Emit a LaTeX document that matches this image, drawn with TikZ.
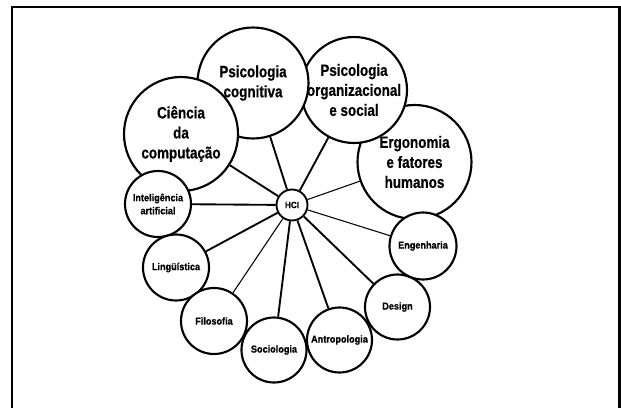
\documentclass[tikz,border=0pt]{standalone}
\usepackage{fontspec}
\setmainfont{Liberation Sans}
\newfontfamily\bigfont[FakeStretch=0.82, FakeBold=0.6]{Liberation Sans}
\newfontfamily\smallfont[FakeStretch=0.9, FakeBold=0.6]{Liberation Sans}

\begin{document}
\begin{tikzpicture}[
  x=0.75pt,
  y=-0.75pt,
  area/.style={circle, draw, fill=white, line width=1.6pt, inner sep=0pt, align=center, minimum size=#1*1.5pt},
  bigarea/.style={area=#1, font=\bigfont\bfseries\fontsize{12.3}{15}\selectfont},
  smallarea/.style={area=#1, font=\smallfont\bfseries\fontsize{7.6}{9.8}\selectfont},
  link/.style={line width=1.4pt},
  thinlink/.style={line width=0.8pt}
]
  \useasboundingbox (0,0) rectangle (621,407);
  \draw[line width=1.7pt] (11.7,412) |- (619.5,7) -- (619.5,412);

  \node[bigarea=57] (ergo) at (414.5,162) {Ergonomia\\e fatores\\humanos};
  \node[bigarea=53, inner sep=-4pt] (psorg) at (354,90) {Psicologia\\organizacional\\e social};
  \node[bigarea=55.5] (pscog) at (253,83) {Psicologia\\cognitiva};
  \node[bigarea=57] (cc) at (181,134) {Ciência\\da\\computação};
  \node[smallarea=33] (ia) at (158,204) {Inteligência\\artificial};
  \node[smallarea=33] (ling) at (176,267.5) {Lingüística};
  \node[smallarea=33] (filo) at (214,321) {Filosofia};
  \node[smallarea=32.5] (socio) at (274,350) {Sociologia};
  \node[smallarea=32.5] (antro) at (339.5,340) {Antropologia};
  \node[smallarea=32.5] (design) at (397.5,307) {Design};
  \node[smallarea=33.5] (eng) at (423,246) {Engenharia};
  \node[area=15.5, line width=1.4pt, font=\smallfont\bfseries\fontsize{6.8}{8}\selectfont] (hci) at (292,205) {HCI};

  \draw[link] (hci) -- (cc);
  \draw[link] (hci) -- (pscog);
  \draw[link] (hci) -- (psorg);
  \draw[thinlink] (hci) -- (ergo);
  \draw[link] (hci) -- (ia);
  \draw[link] (hci) -- (ling);
  \draw[thinlink] (hci) -- (filo);
  \draw[link] (hci) -- (socio);
  \draw[link] (hci) -- (antro);
  \draw[link] (hci) -- (design);
  \draw[thinlink] (hci) -- (eng);
\end{tikzpicture}
\end{document}
